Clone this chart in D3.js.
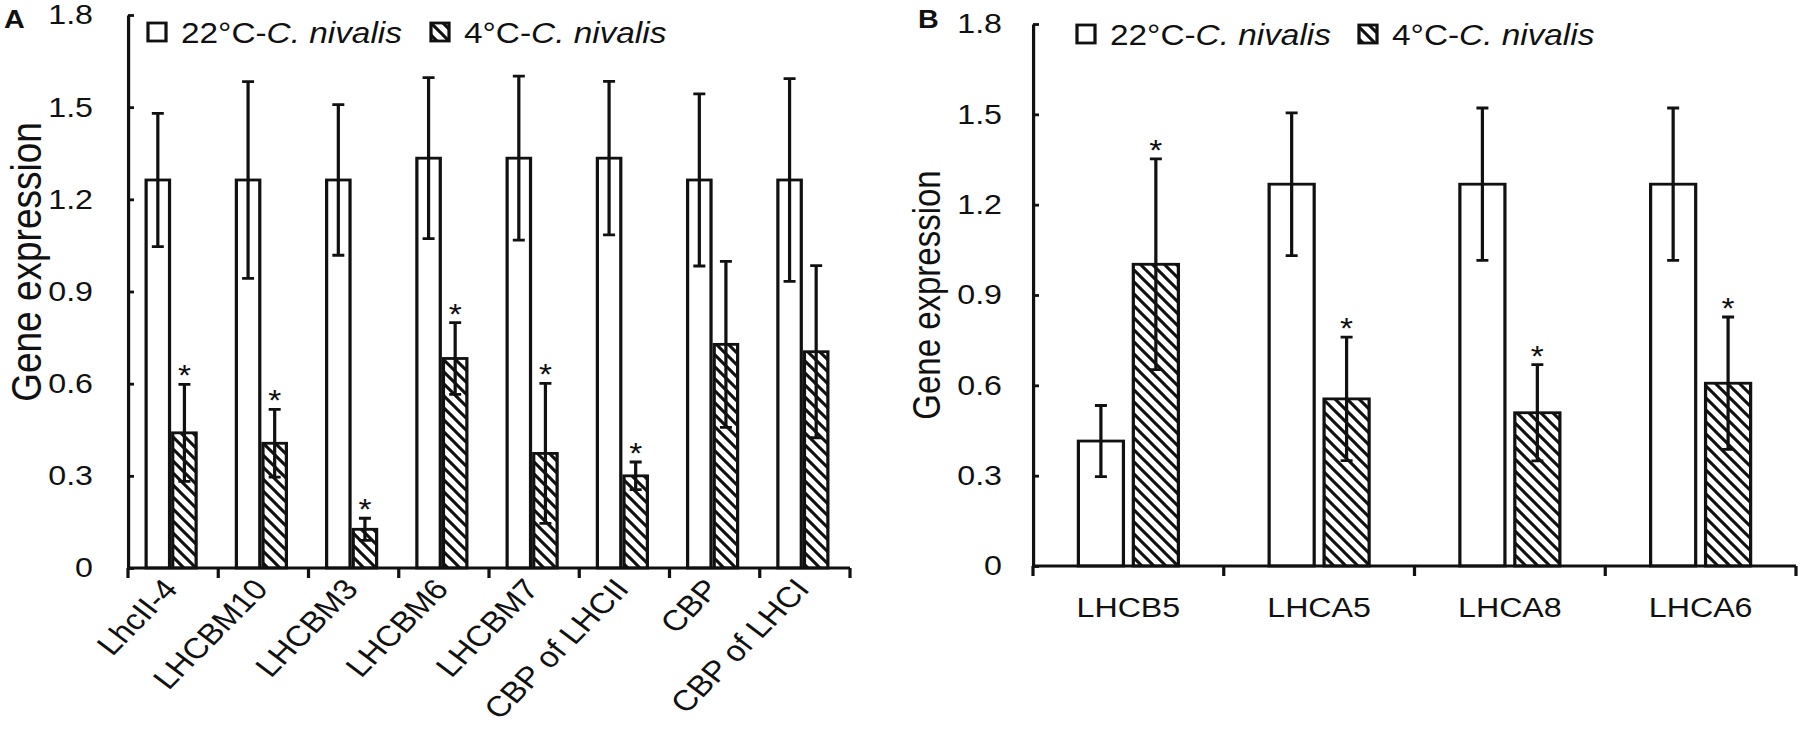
<!DOCTYPE html>
<html>
<head>
<meta charset="utf-8">
<script src="https://cdn.jsdelivr.net/npm/d3@7.9.0/dist/d3.min.js"></script>
<style>
  html, body { margin: 0; padding: 0; background: #fff; }
  svg { display: block; font-family: 'Liberation Sans', Arial, sans-serif; }
  text { fill: #111; }
</style>
</head>
<body>
<div id="chart"></div>
<script>
// ---- data ----
const seriesNames = ['22°C', '4°C'];
const yTicks = [0, 0.3, 0.6, 0.9, 1.2, 1.5, 1.8];

const catsA = ['LhcII-4', 'LHCBM10', 'LHCBM3', 'LHCBM6', 'LHCBM7', 'CBP of LHCII', 'CBP', 'CBP of LHCI'];
const warmA = [1.263, 1.263, 1.263, 1.334, 1.334, 1.334, 1.263, 1.263];
const warmErrA = [0.217, 0.32, 0.245, 0.262, 0.267, 0.25, 0.28, 0.33];
const coldA = [0.44, 0.406, 0.126, 0.682, 0.373, 0.30, 0.728, 0.704];
const coldErrA = [0.158, 0.11, 0.036, 0.117, 0.228, 0.045, 0.27, 0.28];
const sigA = [true, true, true, true, true, true, false, false];

const catsB = ['LHCB5', 'LHCA5', 'LHCA8', 'LHCA6'];
const warmB = [0.415, 1.268, 1.268, 1.268];
const warmErrB = [0.118, 0.237, 0.253, 0.253];
const coldB = [1.002, 0.555, 0.509, 0.607];
const coldErrB = [0.35, 0.205, 0.16, 0.22];
const sigB = [true, true, true, true];

// the source figure is stretched sideways, so draw in a narrower viewBox
const S = 1.15;
const W = 1800 / S, H = 750;
const sx = (v) => v / S;   // picture x -> viewBox x

const svg = d3.select('#chart').append('svg')
  .attr('width', 1800).attr('height', H)
  .attr('viewBox', `0 0 ${W} ${H}`)
  .attr('preserveAspectRatio', 'none');

// hatch pattern "\\\\"
const pw = sx(12), ph = 12;
const pat = svg.append('defs').append('pattern')
  .attr('id', 'hatch')
  .attr('patternUnits', 'userSpaceOnUse')
  .attr('width', pw).attr('height', ph);
pat.append('rect').attr('width', pw).attr('height', ph).attr('fill', '#fff');
pat.append('path')
  .attr('d', `M${-pw / 2},${-ph / 2}L${pw * 1.5},${ph * 1.5}M${-pw},${0}L${pw},${ph * 2}M${0},${-ph}L${pw * 2},${ph}`)
  .attr('stroke', '#111').attr('stroke-width', 2.8);

const LW = 2.8;

function drawPanel(cfg) {
  const g = svg.append('g');
  const cats = cfg.cats;

  const y = d3.scaleLinear().domain([0, 1.8]).range([cfg.bottom, cfg.top]);
  const x0 = d3.scaleBand().domain(cats).range([sx(cfg.left), sx(cfg.right)]).padding(0);
  const x1 = d3.scaleBand().domain(seriesNames).range([0, sx(cfg.groupW)]).paddingInner(cfg.inner);
  const off = (x0.bandwidth() - sx(cfg.groupW)) / 2 + sx(cfg.shift || 0);

  const rows = cats.map((c, i) => [
    { cat: c, s: seriesNames[0], v: cfg.warm[i], e: cfg.warmErr[i], sig: false },
    { cat: c, s: seriesNames[1], v: cfg.cold[i], e: cfg.coldErr[i], sig: cfg.sig[i] }
  ]).flat();

  // bars
  g.append('g').selectAll('rect')
    .data(rows)
    .join('rect')
    .attr('x', (d) => x0(d.cat) + off + x1(d.s))
    .attr('width', x1.bandwidth())
    .attr('y', (d) => y(d.v))
    .attr('height', (d) => y(0) - y(d.v))
    .attr('fill', (d) => d.s === seriesNames[0] ? '#fff' : 'url(#hatch)')
    .attr('stroke', '#111').attr('stroke-width', LW);

  // error bars
  const cap = sx(6);
  const eb = g.append('g').attr('stroke', '#111').attr('stroke-width', LW);
  eb.selectAll('path')
    .data(rows)
    .join('path')
    .attr('fill', 'none')
    .attr('d', (d) => {
      const cx = x0(d.cat) + off + x1(d.s) + x1.bandwidth() / 2;
      const t = y(d.v + d.e), b = y(d.v - d.e);
      return `M${cx},${t}V${b}M${cx - cap},${t}H${cx + cap}M${cx - cap},${b}H${cx + cap}`;
    });

  // significance stars
  g.append('g').selectAll('text')
    .data(rows.filter((d) => d.sig))
    .join('text')
    .attr('x', (d) => x0(d.cat) + off + x1(d.s) + x1.bandwidth() / 2)
    .attr('y', (d) => y(d.v + d.e) + 1)
    .attr('text-anchor', 'middle')
    .style('font-size', '29px')
    .text('*');

  // y axis
  const yAxis = d3.axisLeft(y)
    .tickValues(yTicks)
    .tickFormat((d) => d === 0 ? '0' : d.toFixed(1))
    .tickSizeInner(-sx(6))
    .tickSizeOuter(0)
    .tickPadding(sx(cfg.labelGap));
  const ya = g.append('g')
    .attr('transform', `translate(${sx(cfg.left)},0)`)
    .call(yAxis);
  ya.selectAll('path, line').attr('stroke', '#111').attr('stroke-width', LW);
  ya.selectAll('text').style('font-size', '28px').attr('fill', '#111').attr('font-family', null);

  // x axis: line + ticks on band boundaries
  const xa = g.append('g').attr('stroke', '#111').attr('stroke-width', LW);
  xa.append('line')
    .attr('x1', sx(cfg.left)).attr('x2', sx(cfg.right))
    .attr('y1', y(0)).attr('y2', y(0));
  const bounds = cats.map((c) => x0(c)).concat([x0.range()[1]]);
  xa.selectAll('line.tk')
    .data(bounds)
    .join('line')
    .attr('class', 'tk')
    .attr('x1', (d) => d).attr('x2', (d) => d)
    .attr('y1', y(0)).attr('y2', y(0) + 10);

  // category labels
  const lab = g.append('g').selectAll('text')
    .data(cats)
    .join('text')
    .style('font-size', cfg.labSize + 'px')
    .text((d) => d);
  if (cfg.rotate) {
    lab.attr('text-anchor', 'end')
      .attr('transform', (d) => `translate(${x0(d) + x0.bandwidth() / 2 + sx(cfg.labDx)},${y(0) + cfg.labDy}) rotate(-49)`);
  } else {
    lab.attr('text-anchor', 'middle')
      .attr('x', (d) => x0(d) + x0.bandwidth() / 2)
      .attr('y', y(0) + cfg.labDy);
  }

  // y title
  g.append('text')
    .attr('transform', `translate(${sx(cfg.titleX)},${cfg.titleY}) rotate(-90)`)
    .attr('text-anchor', 'middle')
    .style('font-size', cfg.titleSize + 'px')
    .text('Gene expression');

  // panel letter
  g.append('text')
    .attr('x', sx(cfg.letterX)).attr('y', 28)
    .style('font-size', '25px').style('font-weight', 'bold')
    .text(cfg.letter);

  // legend
  const lg = g.append('g');
  cfg.legend.forEach((it, i) => {
    lg.append('rect')
      .attr('x', sx(it.x)).attr('y', cfg.legendY)
      .attr('width', sx(18)).attr('height', 18)
      .attr('fill', i === 0 ? '#fff' : 'url(#hatch)')
      .attr('stroke', '#111').attr('stroke-width', LW);
    const t = lg.append('text')
      .attr('x', sx(it.x + 33)).attr('y', cfg.legendY + 20)
      .style('font-size', '29px');
    t.append('tspan').text(seriesNames[i] + '-');
    t.append('tspan').style('font-style', 'italic').text('C. nivalis');
  });
}

drawPanel({
  letter: 'A', letterX: 4,
  cats: catsA, warm: warmA, warmErr: warmErrA, cold: coldA, coldErr: coldErrA, sig: sigA,
  left: 128, right: 850, top: 15, bottom: 568,
  groupW: 50, inner: 0.12, shift: -2,
  labelGap: 35, rotate: true, labDx: 6, labDy: 22, labSize: 29,
  titleX: 41, titleY: 262, titleSize: 37,
  legendY: 23, legend: [{ x: 148 }, { x: 431 }]
});

drawPanel({
  letter: 'B', letterX: 918,
  cats: catsB, warm: warmB, warmErr: warmErrB, cold: coldB, coldErr: coldErrB, sig: sigB,
  left: 1033, right: 1796, top: 24, bottom: 566,
  groupW: 100, inner: 0.18, shift: 0,
  labelGap: 31, rotate: false, labDy: 51, labSize: 28,
  titleX: 940, titleY: 295, titleSize: 33,
  legendY: 25, legend: [{ x: 1077 }, { x: 1359 }]
});
</script>
</body>
</html>
